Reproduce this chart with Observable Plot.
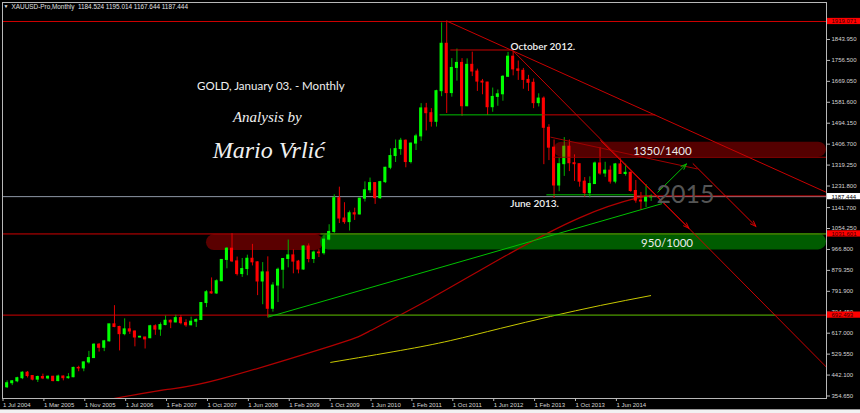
<!DOCTYPE html>
<html><head><meta charset="utf-8">
<script src="https://cdn.jsdelivr.net/npm/d3@7"></script>
<script src="https://cdn.jsdelivr.net/npm/@observablehq/plot@0.6"></script>
<style>html,body{margin:0;padding:0;background:#000;overflow:hidden}
svg{display:block}
#tabs{height:4px;background:#f2f2f2;border-top:1px solid #9a9a9a;box-sizing:border-box}</style>
</head><body><div id="chart"></div><div id="tabs"></div>
<script>
// ---- monthly OHLC, XAUUSD, bar index 0 = Jul 2004 ... 127 = Jan 2015
const open = [393,391,408,416,429,452,438,423,434,428,435,417,436,429,433,472,470,495,513,569,556,583,654,643,613,633,624,599,599,596,646,632,651,669,662,680,659,650,665,672,743,788,783,834,923,970,917,864,885,928,913,833,871,719,816,882,927,942,916,883,979,927,954,951,1008,1040,1181,1096,1081,1118,1113,1179,1214,1244,1181,1248,1308,1357,1386,1421,1332,1409,1439,1556,1536,1500,1628,1826,1620,1725,1746,1565,1738,1710,1668,1664,1561,1604,1615,1688,1772,1719,1713,1675,1663,1578,1597,1475,1392,1234,1323,1396,1327,1323,1250,1202,1240,1326,1284,1296,1250,1322,1282,1287,1211,1171,1167,1184.524];
const high = [410,418,419,433,456,457,439,438,446,438,437,442,438,448,475,479,497,541,573,574,587,654,732,646,677,663,626,604,600,650,652,660,689,672,692,691,673,684,677,745,795,848,840,924,975,1033,935,929,943,988,915,912,936,828,889,928,1006,965,921,983,990,960,966,1024,1070,1195,1227,1162,1127,1139,1181,1249,1265,1246,1251,1310,1387,1424,1431,1424,1412,1448,1576,1577,1555,1632,1913,1921,1764,1804,1764,1763,1791,1720,1677,1665,1641,1633,1693,1790,1796,1754,1723,1694,1679,1617,1604,1488,1424,1348,1434,1424,1362,1323,1267,1270,1332,1392,1331,1315,1326,1345,1323,1290,1255,1205,1238,1195.014];
const low = [385,386,398,410,423,430,418,411,423,422,414,414,418,425,431,456,456,488,512,538,540,580,640,543,606,612,560,597,551,594,608,604,648,636,660,652,642,648,641,670,724,780,779,833,886,912,856,850,857,898,774,736,681,705,745,802,890,865,865,880,911,908,933,943,1003,1034,1075,1072,1044,1088,1111,1165,1201,1155,1176,1242,1300,1330,1360,1308,1324,1380,1418,1462,1478,1478,1605,1535,1603,1670,1523,1563,1689,1627,1613,1527,1540,1565,1586,1686,1692,1673,1636,1627,1555,1562,1321,1338,1180,1208,1272,1292,1251,1227,1185,1182,1239,1277,1268,1240,1241,1280,1273,1206,1160,1131,1142,1167.644];
const close = [391,408,416,429,452,438,423,434,428,435,417,436,429,433,472,470,495,513,569,556,583,654,643,613,633,624,599,602,591,646,632,651,669,662,680,659,650,665,672,743,788,783,834,923,970,917,864,885,928,913,833,871,719,816,882,927,942,916,883,979,927,954,951,1008,1040,1181,1096,1081,1118,1113,1179,1214,1244,1181,1248,1308,1357,1386,1421,1332,1409,1439,1556,1536,1500,1628,1826,1620,1725,1746,1565,1738,1710,1668,1664,1561,1604,1615,1688,1772,1719,1713,1675,1663,1578,1597,1475,1392,1234,1323,1396,1327,1323,1250,1202,1240,1326,1284,1296,1250,1322,1282,1287,1211,1171,1167,1184,1187.444];

// ---- axes
const xTickIndex = [0,8,16,24,32,40,48,56,64,72,80,88,96,104,112,120];
const xTickLabels = ["1 Jul 2004","1 Mar 2005","1 Nov 2005","1 Jul 2006","1 Feb 2007","1 Oct 2007","1 Jun 2008","1 Feb 2009","1 Oct 2009","1 Jun 2010","1 Feb 2011","1 Oct 2011","1 Jun 2012","1 Feb 2013","1 Oct 2013","1 Jun 2014"];
const yTickValues = [354.65,442.1,529.55,617.0,704.45,791.9,879.35,966.8,1054.25,1141.7,1231.8,1319.25,1406.7,1494.15,1581.6,1669.05,1756.5,1843.95,1921.4];

// ---- horizontal levels
const levelPrices = [1919.071, 1031.601, 692.493];
const currentPrice = 1187.444;

// ---- zones (bar index range, price range)
const zoneOldResist = {i1: 40, i2: 62.9, lo: 962, hi: 1028};
const zoneSupport = {i1: 62.3, i2: 161.3, lo: 965, hi: 1032};
const zoneResist = {i1: 108, i2: 161.3, lo: 1352, hi: 1415};

// ---- moving averages (sampled)
const maRedIdx = [21.6,32.4,42.8,64.3,72.1,83.8,97.5,113.2,124.3,127];
const maRedVal = [343,382,426,563,628,761,928,1101,1182,1190];
const maYellowIdx = [64.3,78,87.7,97.5,107.3,117.1,126.9];
const maYellowVal = [495,545,586,637,687,733,774];

// ---- drawn lines [i1,p1,i2,p2]
const redLines = [
  [87,1921,161.3,1205],      // through Sep 2011 and Oct 2012 tops
  [100,1796,161.3,475],      // steep from Oct 2012
  [87.7,1800,100,1800],      // Oct 2012 level
  [105.7,1529,127.8,1529],
  [123.9,1190.5,161.3,1190.5]
];
const darkRedLines = [[107.3,1436,136.05,1303]];
const greenLines = [
  [52,684,129.1,1158],        // rising trend from 2008 low
  [85.6,1529,105.7,1529],
  [106.5,1195,123.6,1195],
  [52,692.493,151.3,692.493],
  [62.3,1031.6,161.3,1031.6]
];
const redArrows = [[117.1,1422,134.4,1055],[135.2,1325,147.5,1063]];
const greenArrows = [[128.3,1206,133.9,1324]];

// ---- annotations
const notes = [{t:"October 2012.", i:105.8, p:1814},{t:"June 2013.", i:104.2, p:1159}];
const titleNote = {t:"GOLD, January 03. - Monthly", i:52.6, p:1649};
const byNote = {t:"Analysis by", i:51.9, p:1519};
const authorNote = {t:"Mario Vrlić", i:52.2, p:1383};
const yearNote = {t:"2015", i:133.7, p:1196};
const zoneNotes = [{t:"1350/1400", i:129.2, p:1378},{t:"950/1000", i:130.1, p:992}];

const bars = open.map((o, i) => ({i, o, h: high[i], l: low[i], c: close[i], up: close[i] >= o}));
const seg = a => a.map(([i1,p1,i2,p2]) => ({i1,p1,i2,p2}));
const ma = (ix, v) => ix.map((i, k) => ({i, p: v[k]}));
const last = bars[bars.length - 1];
const header = `XAUUSD-Pro,Monthly  ${last.o.toFixed(3)} ${last.h.toFixed(3)} ${last.l.toFixed(3)} ${last.c.toFixed(3)}`;
const labelBoxes = [
  {p: levelPrices[0], bg: "#ff0000", fg: "#3a0000"},
  {p: currentPrice, bg: "#ffffff", fg: "#000000"},
  {p: levelPrices[1], bg: "#ff0000", fg: "#3a0000"},
  {p: levelPrices[2], bg: "#ff0000", fg: "#3a0000"}
];
const small = "Liberation Sans";

const chart = Plot.plot({
  width: 860, height: 409,
  marginLeft: 2, marginRight: 34, marginTop: 2, marginBottom: 11,
  style: {background: "#000", color: "#d4d4d4", fontFamily: small},
  x: {type: "linear", domain: [0.098, 161.3], axis: null},
  y: {type: "linear", domain: [344.2, 1998.4], axis: null},
  marks: [
    Plot.rect([zoneOldResist], {x1: "i1", x2: "i2", y1: "lo", y2: "hi", fill: "#5a0000", rx: 8}),
    Plot.rect([zoneSupport], {x1: "i1", x2: "i2", y1: "lo", y2: "hi", fill: "#005c00", rx: 8, clip: true}),
    Plot.ruleY(levelPrices, {stroke: "#d00000", strokeWidth: 1}),
    Plot.ruleY([currentPrice], {stroke: "#8e97a6", strokeWidth: 1}),
    Plot.line(ma(maRedIdx, maRedVal), {x: "i", y: "p", stroke: "#b00000", strokeWidth: 1.2, curve: "natural", clip: true}),
    Plot.line(ma(maYellowIdx, maYellowVal), {x: "i", y: "p", stroke: "#c8c800", strokeWidth: 1, curve: "natural"}),
    Plot.ruleX(bars, {x: "i", y1: "l", y2: "h", stroke: d => d.up ? "#00b400" : "#e00000", strokeWidth: 1, clip: true}),
    Plot.rect(bars, {x1: d => d.i - 0.3, x2: d => d.i + 0.3, y1: "o", y2: "c", fill: d => d.up ? "#00ff00" : "#ff0000", insetTop: -0.5, insetBottom: -0.5, clip: true}),
    Plot.rect([zoneResist], {x1: "i1", x2: "i2", y1: "lo", y2: "hi", fill: "#ff0000", fillOpacity: 0.33, rx: 8, clip: true}),
    Plot.ruleY([zoneResist], {x1: "i1", x2: "i2", y: "lo", stroke: "#a00000", strokeWidth: 1}),
    Plot.link(seg(greenLines), {x1: "i1", y1: "p1", x2: "i2", y2: "p2", stroke: "#00c000", strokeWidth: 1, clip: true}),
    Plot.link(seg(redLines), {x1: "i1", y1: "p1", x2: "i2", y2: "p2", stroke: "#c80000", strokeWidth: 1, clip: true}),
    Plot.link(seg(darkRedLines), {x1: "i1", y1: "p1", x2: "i2", y2: "p2", stroke: "#a00000", strokeWidth: 1}),
    Plot.arrow(seg(redArrows), {x1: "i1", y1: "p1", x2: "i2", y2: "p2", stroke: "#e00000", strokeWidth: 1, headLength: 9, headAngle: 40}),
    Plot.arrow(seg(greenArrows), {x1: "i1", y1: "p1", x2: "i2", y2: "p2", stroke: "#00c000", strokeWidth: 1, headLength: 9, headAngle: 40}),
    Plot.text([yearNote], {x: "i", y: "p", text: "t", fill: "#555555", fontSize: 25, fontFamily: "Lato"}),
    Plot.text(zoneNotes, {x: "i", y: "p", text: "t", fill: "#ececec", fontSize: 11.5, fontFamily: "Lato"}),
    Plot.text(notes, {x: "i", y: "p", text: "t", fill: "#f0f0f0", fontSize: 10, fontFamily: "Lato", fontWeight: 600}),
    Plot.text([titleNote], {x: "i", y: "p", text: "t", fill: "#f0f0f0", fontSize: 11.5, fontFamily: "Lato"}),
    Plot.text([byNote], {x: "i", y: "p", text: "t", fill: "#f0f0f0", fontSize: 15, fontFamily: "Liberation Serif", fontStyle: "italic"}),
    Plot.text([authorNote], {x: "i", y: "p", text: "t", fill: "#f0f0f0", fontSize: 24, fontFamily: "Liberation Serif", fontStyle: "italic"}),
    Plot.text(["▼"], {frameAnchor: "top-left", dx: 1, dy: 2, fontSize: 5, fill: "#e0e0e0"}),
    Plot.text([header], {frameAnchor: "top-left", dx: 9, dy: 1.5, fontSize: 6.4, fill: "#e0e0e0", textAnchor: "start"}),
    Plot.axisY({anchor: "right", ticks: yTickValues, tickFormat: d => d.toFixed(3), tickSize: 3, tickPadding: 2, fontSize: 6, stroke: "#bbbbbb"}),
    Plot.axisX({anchor: "bottom", ticks: xTickIndex, tickFormat: d => xTickLabels[xTickIndex.indexOf(d)], tickSize: 3, tickPadding: 1, fontSize: 6, textAnchor: "start", dx: 1, stroke: "#bbbbbb"}),
    Plot.rect(labelBoxes, {x1: 161.5, x2: 168, y1: d => d.p - 13, y2: d => d.p + 13, fill: "bg"}),
    Plot.text(labelBoxes, {frameAnchor: "right", y: "p", dx: 5, text: d => d.p.toFixed(3), fill: "fg", fontSize: 6, textAnchor: "start"}),
    Plot.frame({stroke: "#b8b8b8"})
  ]
});
document.getElementById("chart").appendChild(chart);
</script></body></html>
